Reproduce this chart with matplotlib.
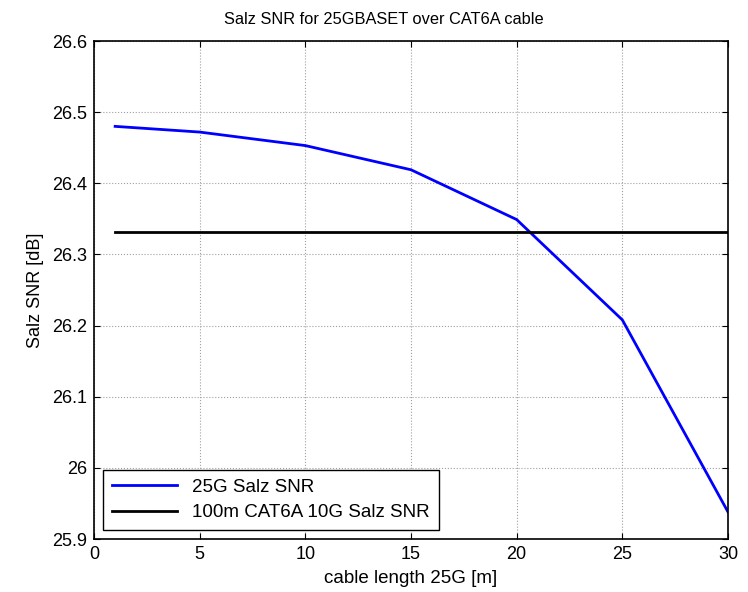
import matplotlib
matplotlib.use("Agg")
import matplotlib.pyplot as plt

cable_length = [1, 5, 10, 15, 20, 25, 30]
snr_25g = [26.480, 26.472, 26.453, 26.419, 26.349, 26.208, 25.938]
snr_10g_ref = 26.331
xticks = [0, 5, 10, 15, 20, 25, 30]
yticks = [25.9, 26.0, 26.1, 26.2, 26.3, 26.4, 26.5, 26.6]
ytick_labels = ["25.9", "26", "26.1", "26.2", "26.3", "26.4", "26.5", "26.6"]

plt.rcParams['font.family'] = ['Liberation Sans', 'DejaVu Sans']

fig = plt.figure(figsize=(7.48, 5.92), dpi=100)
ax = fig.add_axes([94/748, 53/592, 634/748, 498/592])

ax.plot(cable_length, snr_25g, color='#0000ff', lw=2, label='25G Salz SNR')
ax.plot([cable_length[0], cable_length[-1]], [snr_10g_ref, snr_10g_ref],
        color='black', lw=2, label='100m CAT6A 10G Salz SNR')

ax.set_xlim(0, 30)
ax.set_ylim(25.9, 26.6)
ax.set_xticks(xticks)
ax.set_yticks(yticks)
ax.set_yticklabels(ytick_labels)
ax.tick_params(direction='in', top=True, right=True, labelsize=13, length=4, width=0.8, pad=5)
ax.grid(True, color='#a0a0a0', linestyle=':', linewidth=0.8)
for s in ax.spines.values():
    s.set_linewidth(1.2)

fig.text(384/748, 1 - 19/592, 'Salz SNR for 25GBASET over CAT6A cable',
         fontsize=11.8, ha='center', va='center')
ax.set_xlabel('cable length 25G [m]', fontsize=13.5, labelpad=5)
ax.set_ylabel('Salz SNR [dB]', fontsize=13, labelpad=6)

leg = ax.legend(loc='lower left', fontsize=13.5, frameon=True, fancybox=False,
                edgecolor='black', framealpha=1, borderaxespad=0.5,
                handlelength=3.5, labelspacing=0.45, borderpad=0.45)
leg.get_frame().set_linewidth(1.0)

fig.savefig('out.png', dpi=100)
